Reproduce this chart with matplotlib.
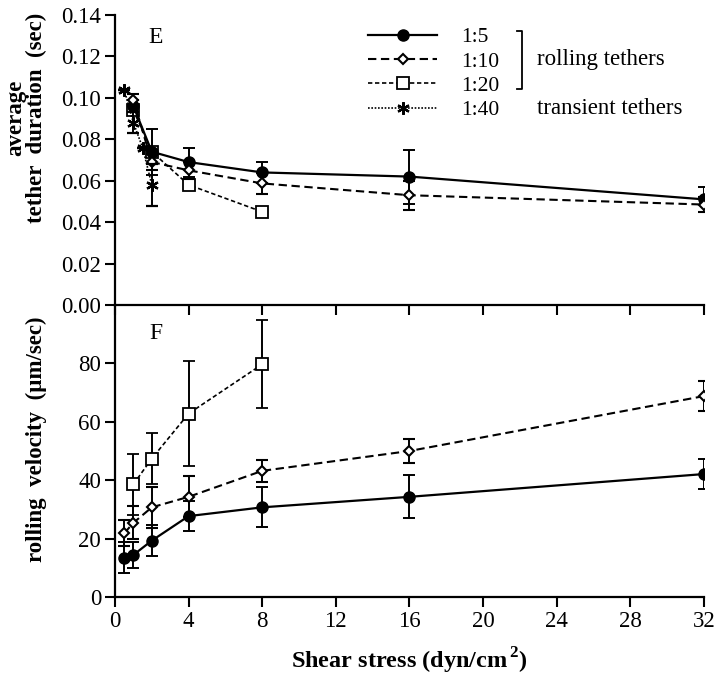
import matplotlib
matplotlib.use("Agg")
import matplotlib.pyplot as plt
from matplotlib.lines import Line2D
import numpy as np

plt.rcParams['font.family'] = ['Liberation Serif', 'DejaVu Serif']
plt.rcParams['mathtext.fontset'] = 'custom'
plt.rcParams['mathtext.rm'] = 'Liberation Serif'
plt.rcParams['mathtext.bf'] = 'Liberation Serif:bold'

# panel E: average tether duration (sec)
x_e5 = [1, 2, 4, 8, 16, 32]
dur_15 = [0.096, 0.074, 0.069, 0.064, 0.062, 0.051]
err_d15 = [0.003, 0.011, 0.007, 0.005, 0.013, 0.006]
x_e10 = [1, 2, 4, 8, 16, 32]
dur_110 = [0.099, 0.069, 0.065, 0.0587, 0.053, 0.0485]
err_d110 = [0.003, 0.004, 0.004, 0.005, 0.007, 0.0035]
x_e20 = [1, 2, 4, 8]
dur_120 = [0.094, 0.074, 0.058, 0.045]
x_e40 = [0.5, 1, 1.5, 2]
dur_140 = [0.104, 0.088, 0.076, 0.058]
err_d140 = [0.0, 0.005, 0.0, 0.010]

# panel F: rolling velocity (um/sec)
x_f5 = [0.5, 1, 2, 4, 8, 16, 32]
vel_15 = [13.4, 14.4, 19.3, 27.7, 30.7, 34.3, 42.1]
err_v15 = [5.3, 4.5, 5.2, 5.2, 6.8, 7.4, 5.2]
x_f10 = [0.5, 1, 2, 4, 8, 16, 32]
vel_110 = [21.8, 25.4, 30.7, 34.3, 43.2, 50.0, 68.8]
err_v110 = [4.5, 5.6, 7.0, 7.0, 3.8, 4.0, 5.2]
x_f20 = [1, 2, 4, 8]
vel_120 = [38.6, 47.4, 62.8, 79.7]
err_v120 = [10.5, 8.6, 18.0, 15.0]

xticks = [0, 4, 8, 12, 16, 20, 24, 28, 32]
labels = ['1:5', '1:10', '1:20', '1:40']

sty5 = dict(color='k', ls='-', lw=1.6, marker='o', ms=8, mfc='k', mec='k')
sty10 = dict(color='k', ls=(0, (4, 2.2)), lw=1.5, marker='D', ms=5.5, mfc='white', mec='k', mew=1.5)
sty20 = dict(color='k', ls=(0, (2.6, 1.6)), lw=1.2, marker='s', ms=8, mfc='white', mec='k', mew=1.3)
sty40 = dict(color='k', ls=(0, (1, 1)), lw=1.2, marker=(6, 2, 0), ms=9, mec='k', mew=1.6)
ekw = dict(ecolor='k', elinewidth=1.4, capsize=4, capthick=1.4)

fig = plt.figure(figsize=(7.2, 6.79), dpi=100)
axF = fig.add_axes([0.1597, 0.1208, 0.818, 0.43])
axE = fig.add_axes([0.1597, 0.5508, 0.818, 0.4271])
axE.patch.set_alpha(0)
axF.patch.set_alpha(0)

# --- panel E
axE.errorbar(x_e5, dur_15, yerr=err_d15, zorder=4, **sty5, **ekw)
axE.errorbar(x_e10, dur_110, yerr=err_d110, zorder=5, **sty10, **ekw)
axE.plot(x_e20, dur_120, zorder=3, **sty20)
axE.errorbar(x_e40, dur_140, yerr=err_d140, zorder=6, **sty40, **ekw)

axE.set_xlim(0, 32)
axE.set_ylim(0, 0.14)
axE.set_xticks(xticks)
axE.set_xticklabels([])
axE.set_yticks(np.arange(0, 0.141, 0.02))
axE.set_yticklabels(['%.2f' % v for v in np.arange(0, 0.141, 0.02)])
axE.spines['top'].set_visible(False)
axE.spines['right'].set_visible(False)
axE.text(0.056, 0.924, 'E', transform=axE.transAxes, fontsize=17, va='center')
axE.set_ylabel('average\ntether  duration  (sec)', fontsize=16.5, fontweight='bold', linespacing=1.0)
axE.yaxis.set_label_coords(-0.115, 0.645)

# legend
handles = [Line2D([], [], **sty5), Line2D([], [], **sty10),
           Line2D([], [], **sty20), Line2D([], [], **sty40)]
axE.legend(handles, labels, loc='upper left', bbox_to_anchor=(0.43, 0.958), frameon=False,
           fontsize=15.5, handlelength=3.2, handletextpad=1.1, labelspacing=0.2,
           borderpad=0, borderaxespad=0)
axE.plot([0.683, 0.691, 0.691, 0.683], [0.945, 0.945, 0.745, 0.745], color='k', lw=1.3,
         transform=axE.transAxes, clip_on=False)
axE.text(0.716, 0.845, 'rolling tethers', transform=axE.transAxes, fontsize=16.5, va='center')
axE.text(0.716, 0.679, 'transient tethers', transform=axE.transAxes, fontsize=16.5, va='center')

# --- panel F
axF.errorbar(x_f5, vel_15, yerr=err_v15, zorder=4, **sty5, **ekw)
axF.errorbar(x_f10, vel_110, yerr=err_v110, zorder=5, **sty10, **ekw)
axF.errorbar(x_f20, vel_120, yerr=err_v120, zorder=3, **sty20, **ekw)

axF.set_xlim(0, 32)
axF.set_ylim(0, 100)
axF.set_xticks(xticks)
axF.set_yticks([0, 20, 40, 60, 80])
axF.spines['top'].set_visible(False)
axF.spines['right'].set_visible(False)
axF.text(0.059, 0.904, 'F', transform=axF.transAxes, fontsize=17, va='center')
axF.set_ylabel('rolling  velocity  (\u00b5m/sec)', fontsize=16.5, fontweight='bold')
axF.yaxis.set_label_coords(-0.115, 0.541)
axF.set_xlabel('Shear stress (dyn/cm$^{\\,\\mathbf{2}}$)', fontsize=17.5, fontweight='bold', labelpad=10)

for ax in (axE, axF):
    ax.tick_params(direction='out', length=7, width=1.5, labelsize=16.5, pad=3)
    for s in ('left', 'bottom'):
        ax.spines[s].set_linewidth(1.6)

fig.savefig('out.png', dpi=100)
